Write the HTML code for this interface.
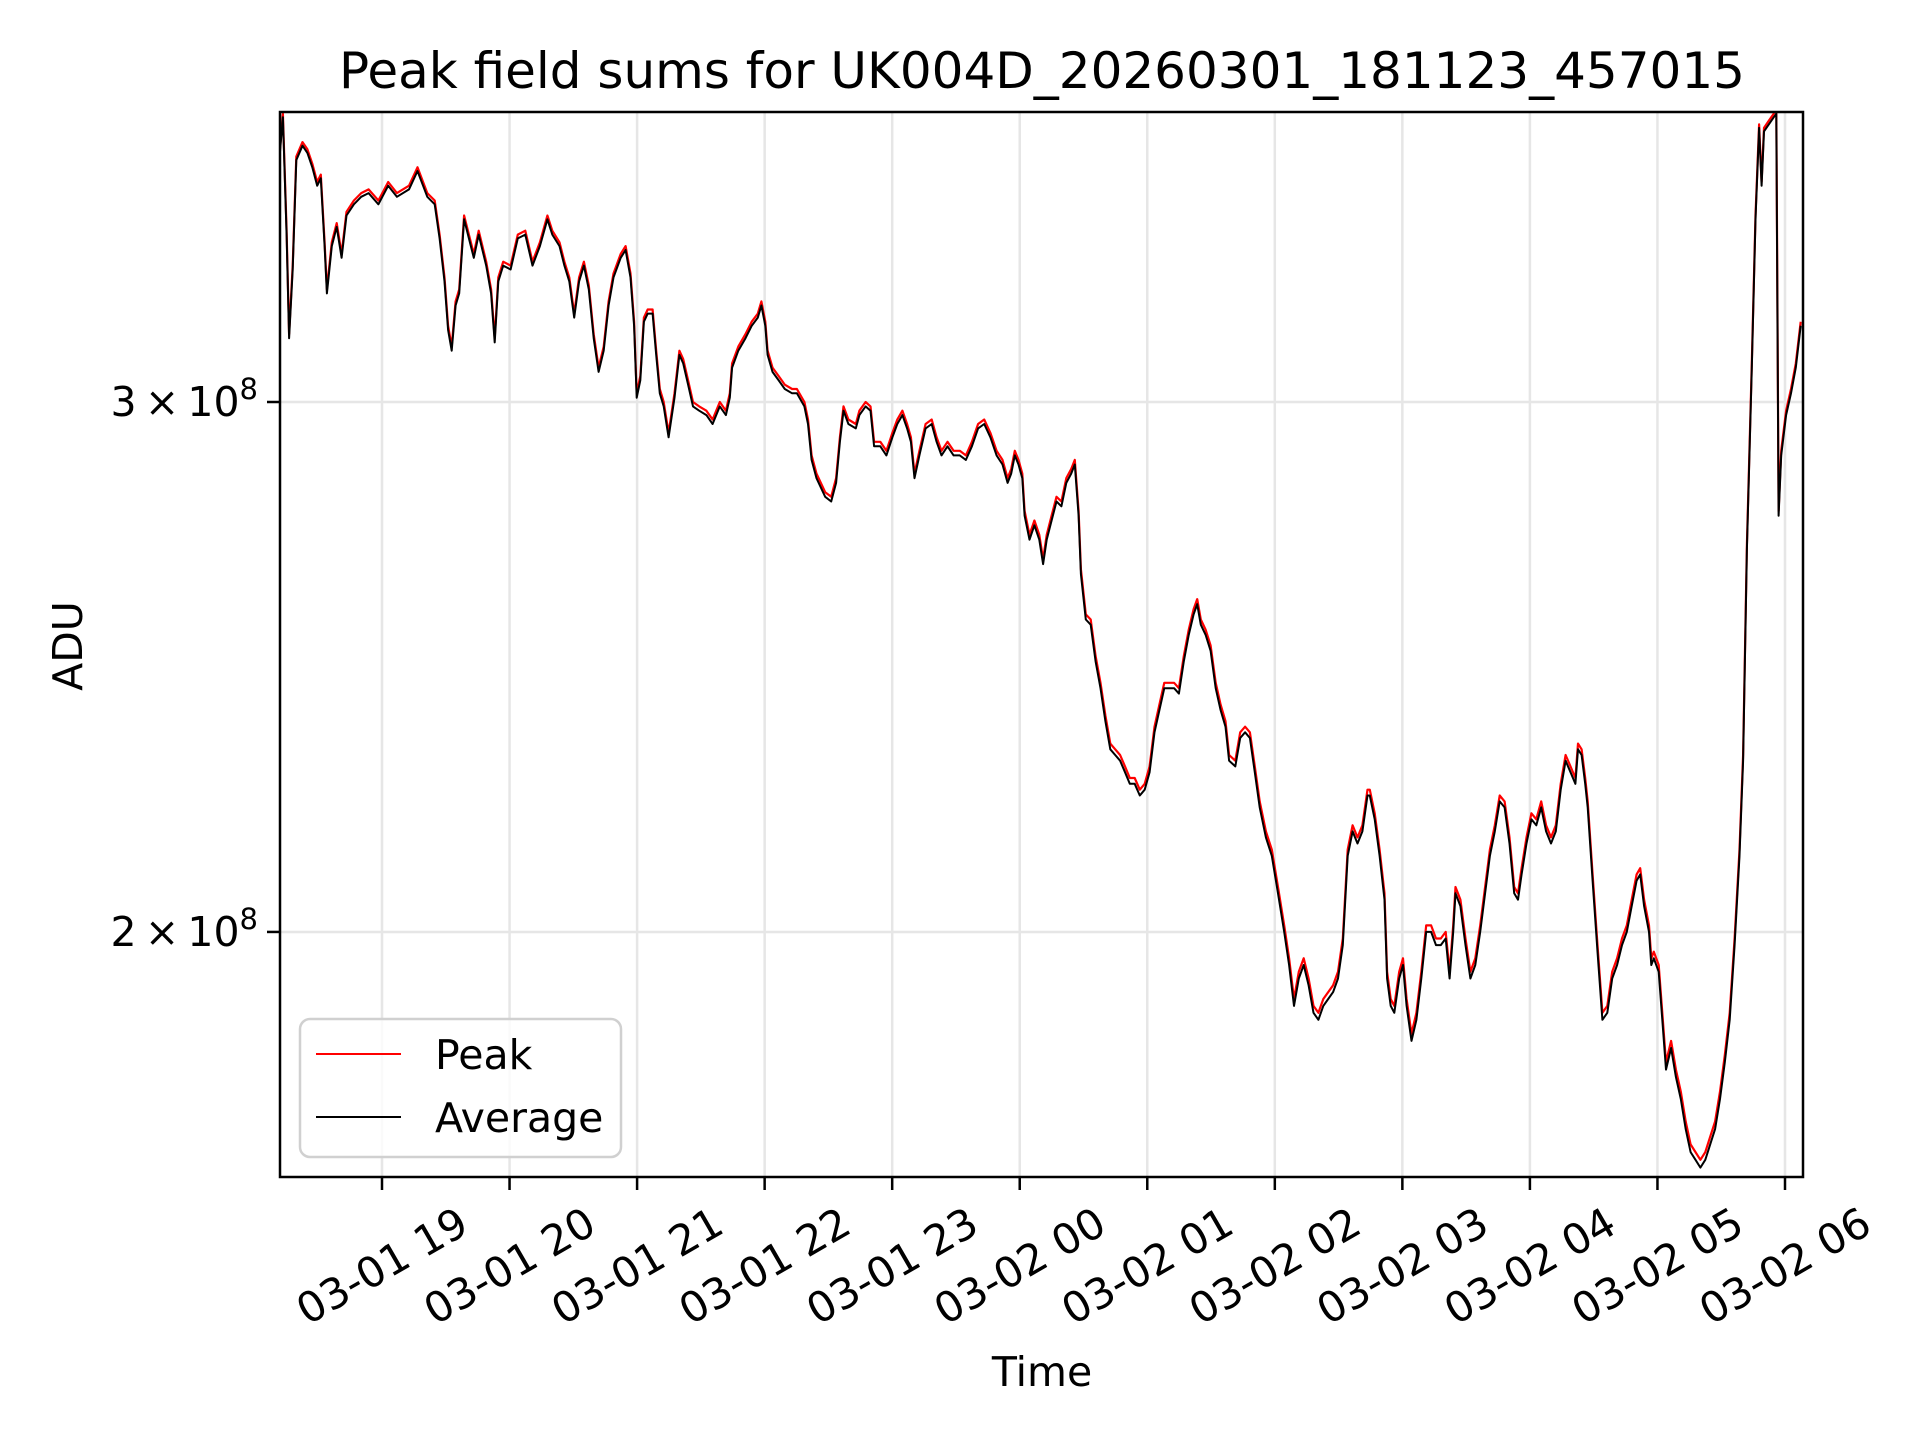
<!DOCTYPE html>
<html><head><meta charset="utf-8"><style>
html,body{margin:0;padding:0;background:#fff}
svg{display:block}
text{font-family:"DejaVu Sans","Liberation Sans",sans-serif;fill:#000}
</style></head><body>
<svg id="chart" width="1920" height="1440" viewBox="0 0 1920 1440" xmlns="http://www.w3.org/2000/svg">
<rect x="0" y="0" width="1920" height="1440" fill="#fff"/>
<text x="1042" y="88" font-size="50" text-anchor="middle">Peak field sums for UK004D_20260301_181123_457015</text>
<text transform="translate(82,646) rotate(-90)" font-size="41" text-anchor="middle">ADU</text>
<text x="1042" y="1386" font-size="41" text-anchor="middle">Time</text>
<g id="grid"></g>
<g id="series"></g>
<rect x="280" y="112" width="1523" height="1065" fill="none" stroke="#000" stroke-width="2.5"/>
<g id="ticks"></g>
<g>
<rect x="300" y="1019" width="321" height="138" rx="10" fill="#fff" fill-opacity="0.8" stroke="#d0d0d0" stroke-width="2.5"/>
<line x1="316" y1="1054" x2="401" y2="1054" stroke="#ff0000" stroke-width="2"/>
<text x="435" y="1069" font-size="41">Peak</text>
<line x1="316" y1="1117" x2="401" y2="1117" stroke="#000" stroke-width="2"/>
<text x="435" y="1132" font-size="41">Average</text>
</g>
</svg>
<script>
const xTickMinutes = [60,120,180,240,300,360,420,480,540,600,660,720];
const xTickLabels = ["03-01 19","03-01 20","03-01 21","03-01 22","03-01 23","03-02 00","03-02 01","03-02 02","03-02 03","03-02 04","03-02 05","03-02 06"];
const yTickValues = [2,3];
const yTickLabels = ["2","3"];
const timesMin = [
11.7,13.4,15.1,16.3,18.0,19.7,22.6,24.9,27.2,29.5,
31.2,33.0,34.1,36.4,38.7,41.0,43.3,46.8,50.2,53.7,
58.3,62.9,67.0,72.7,76.7,81.3,84.8,87.1,89.4,91.1,
92.8,94.6,96.3,98.6,100.9,103.2,105.5,109.0,111.3,113.0,
114.7,117.0,120.5,123.9,127.4,130.8,134.3,137.8,140.1,143.5,
145.8,148.1,150.4,152.7,155.0,157.3,159.6,161.9,164.3,166.6,
168.9,172.3,174.6,176.9,178.6,179.8,181.5,183.2,185.0,187.3,
189.0,190.7,192.5,194.8,197.6,199.9,201.7,204.0,206.3,209.2,
212.6,215.5,218.9,221.8,223.6,224.7,227.6,231.0,233.9,236.8,
238.5,240.3,241.4,243.7,246.6,249.5,252.9,255.2,258.7,260.4,
262.1,264.4,268.5,271.3,273.6,275.4,277.1,279.4,282.9,284.6,
287.5,289.8,291.5,294.4,297.3,300.1,302.4,304.8,307.0,308.8,
310.5,312.8,315.7,318.6,320.9,323.2,326.0,328.9,331.8,334.7,
337.5,340.4,343.3,346.2,349.1,351.9,354.3,356.0,357.7,359.4,
361.2,362.3,364.6,366.9,369.2,371.0,372.7,375.0,377.3,379.6,
381.9,384.2,385.9,387.7,388.8,391.1,393.4,395.7,398.0,400.3,
402.6,404.9,407.2,409.5,411.8,414.1,416.5,418.8,421.1,423.4,
425.7,428.0,430.3,432.6,434.9,437.2,439.5,441.8,443.5,445.2,
447.5,449.8,452.2,454.5,456.8,458.5,461.4,463.7,466.0,468.3,
470.6,472.9,475.8,478.6,481.5,484.4,486.7,489.0,491.3,493.6,
495.9,498.2,500.5,502.8,505.1,507.4,509.7,512.0,514.3,516.6,
518.9,521.2,523.6,524.7,527.0,529.3,531.6,532.8,534.5,536.2,
538.5,540.3,542.0,544.3,546.6,548.9,551.2,553.5,555.8,558.1,
560.4,562.2,563.9,565.0,567.3,569.7,572.0,574.3,576.6,578.9,
581.2,583.5,585.8,588.1,590.4,592.6,594.4,596.1,598.4,600.7,
603.0,605.3,607.6,609.9,612.2,614.5,616.8,619.1,621.4,622.6,
624.3,626.0,627.2,629.5,631.8,634.1,636.4,638.7,641.0,643.3,
645.6,647.9,650.2,651.9,653.7,656.0,657.1,658.3,660.6,662.3,
664.0,666.4,668.7,671.0,673.3,675.6,677.9,680.2,682.5,684.8,
687.1,689.4,691.7,694.0,696.3,698.6,700.3,702.1,704.4,706.1,
707.8,709.0,710.1,712.4,714.7,715.9,717.0,718.2,720.5,722.8,
725.1,727.4];
const averageVals = [
3.61,3.73,3.41,3.15,3.32,3.61,3.65,3.63,3.59,3.54,
3.56,3.38,3.26,3.38,3.43,3.35,3.46,3.49,3.51,3.52,
3.49,3.54,3.51,3.53,3.58,3.51,3.49,3.40,3.29,3.17,
3.12,3.23,3.26,3.45,3.40,3.35,3.41,3.33,3.26,3.14,
3.29,3.33,3.32,3.40,3.41,3.33,3.38,3.45,3.41,3.38,
3.33,3.29,3.20,3.29,3.33,3.27,3.15,3.07,3.12,3.23,
3.30,3.35,3.37,3.30,3.18,3.01,3.05,3.19,3.21,3.21,
3.11,3.02,2.99,2.92,3.01,3.11,3.09,3.04,2.99,2.98,
2.97,2.95,2.99,2.97,3.01,3.08,3.12,3.15,3.18,3.20,
3.23,3.18,3.11,3.07,3.05,3.03,3.02,3.02,2.99,2.95,
2.87,2.83,2.79,2.78,2.82,2.91,2.98,2.95,2.94,2.97,
2.99,2.98,2.90,2.90,2.88,2.92,2.95,2.97,2.94,2.91,
2.83,2.88,2.94,2.95,2.91,2.88,2.90,2.88,2.88,2.87,
2.90,2.94,2.95,2.92,2.88,2.86,2.82,2.84,2.88,2.86,
2.83,2.75,2.70,2.73,2.70,2.65,2.70,2.74,2.78,2.77,
2.82,2.84,2.86,2.75,2.63,2.54,2.53,2.46,2.41,2.35,
2.30,2.29,2.28,2.26,2.24,2.24,2.22,2.23,2.26,2.33,
2.37,2.41,2.41,2.41,2.40,2.46,2.51,2.55,2.57,2.53,
2.51,2.48,2.41,2.37,2.34,2.28,2.27,2.32,2.33,2.32,
2.26,2.20,2.15,2.12,2.06,2.00,1.95,1.89,1.93,1.95,
1.92,1.88,1.87,1.89,1.90,1.91,1.93,1.98,2.12,2.16,
2.14,2.16,2.22,2.22,2.18,2.12,2.05,1.93,1.89,1.88,
1.93,1.95,1.89,1.84,1.87,1.93,2.00,2.00,1.98,1.98,
1.99,1.93,2.00,2.06,2.04,1.98,1.93,1.95,2.00,2.06,
2.12,2.16,2.21,2.20,2.14,2.06,2.05,2.09,2.14,2.18,
2.17,2.20,2.16,2.14,2.16,2.23,2.28,2.26,2.24,2.30,
2.29,2.24,2.20,2.08,1.97,1.87,1.88,1.93,1.95,1.98,
2.00,2.04,2.08,2.09,2.04,2.00,1.95,1.96,1.94,1.87,
1.80,1.83,1.79,1.76,1.72,1.69,1.68,1.67,1.68,1.70,
1.72,1.76,1.81,1.87,1.98,2.12,2.28,2.68,3.08,3.45,
3.70,3.54,3.69,3.71,3.73,3.74,2.75,2.88,2.97,3.02,
3.08,3.18];
const peakVals = [
3.62,3.74,3.42,3.16,3.33,3.62,3.66,3.64,3.60,3.55,
3.57,3.39,3.27,3.39,3.44,3.36,3.47,3.50,3.52,3.53,
3.50,3.55,3.52,3.54,3.59,3.52,3.50,3.41,3.30,3.18,
3.13,3.24,3.27,3.46,3.41,3.36,3.42,3.34,3.27,3.15,
3.30,3.34,3.33,3.41,3.42,3.34,3.39,3.46,3.42,3.39,
3.34,3.30,3.21,3.30,3.34,3.28,3.16,3.08,3.13,3.24,
3.31,3.36,3.38,3.31,3.19,3.02,3.06,3.20,3.22,3.22,
3.12,3.03,3.00,2.93,3.02,3.12,3.10,3.05,3.00,2.99,
2.98,2.96,3.00,2.98,3.02,3.09,3.13,3.16,3.19,3.21,
3.24,3.19,3.12,3.08,3.06,3.04,3.03,3.03,3.00,2.96,
2.88,2.84,2.80,2.79,2.83,2.92,2.99,2.96,2.95,2.98,
3.00,2.99,2.91,2.91,2.89,2.93,2.96,2.98,2.95,2.92,
2.84,2.89,2.95,2.96,2.92,2.89,2.91,2.89,2.89,2.88,
2.91,2.95,2.96,2.93,2.89,2.87,2.83,2.85,2.89,2.87,
2.84,2.76,2.71,2.74,2.71,2.66,2.71,2.75,2.79,2.78,
2.83,2.85,2.87,2.76,2.64,2.55,2.54,2.47,2.42,2.36,
2.31,2.30,2.29,2.27,2.25,2.25,2.23,2.24,2.27,2.34,
2.38,2.42,2.42,2.42,2.41,2.47,2.52,2.56,2.58,2.54,
2.52,2.49,2.42,2.38,2.35,2.29,2.28,2.33,2.34,2.33,
2.27,2.21,2.16,2.13,2.07,2.01,1.96,1.90,1.94,1.96,
1.93,1.89,1.88,1.90,1.91,1.92,1.94,1.99,2.13,2.17,
2.15,2.17,2.23,2.23,2.19,2.13,2.06,1.94,1.90,1.89,
1.94,1.96,1.90,1.85,1.88,1.94,2.01,2.01,1.99,1.99,
2.00,1.94,2.01,2.07,2.05,1.99,1.94,1.96,2.01,2.07,
2.13,2.17,2.22,2.21,2.15,2.07,2.06,2.10,2.15,2.19,
2.18,2.21,2.17,2.15,2.17,2.24,2.29,2.27,2.25,2.31,
2.30,2.25,2.21,2.09,1.98,1.88,1.89,1.94,1.96,1.99,
2.01,2.05,2.09,2.10,2.05,2.01,1.96,1.97,1.95,1.88,
1.81,1.84,1.80,1.77,1.73,1.70,1.69,1.68,1.69,1.71,
1.73,1.77,1.82,1.88,1.99,2.13,2.29,2.69,3.09,3.46,
3.71,3.55,3.70,3.72,3.74,3.76,2.76,2.89,2.98,3.03,
3.09,3.19];

const NS = "http://www.w3.org/2000/svg";
const PL = 280, PR = 1803, PT = 112, PB = 1177;
function xScale(m){ return 382 + (m - 60) * (1785 - 382) / 660; }
function yScale(v){ return 402 + (Math.log(3) - Math.log(v)) * 1307; }

const svg = document.getElementById('chart');
const defs = document.createElementNS(NS,'defs');
const cp = document.createElementNS(NS,'clipPath');
cp.setAttribute('id','plotclip');
const cr = document.createElementNS(NS,'rect');
cr.setAttribute('x',PL); cr.setAttribute('y',PT); cr.setAttribute('width',PR-PL); cr.setAttribute('height',PB-PT);
cp.appendChild(cr); defs.appendChild(cp); svg.insertBefore(defs, svg.firstChild);

const grid = document.getElementById('grid');
const ticks = document.getElementById('ticks');
xTickMinutes.forEach((m,i)=>{
  const x = xScale(m);
  const g = document.createElementNS(NS,'line');
  
  
  g.setAttribute('x1',x); g.setAttribute('x2',x); g.setAttribute('y1',PT); g.setAttribute('y2',PB);
  g.setAttribute('stroke','#e6e6e6'); g.setAttribute('stroke-width','2.5');
  grid.appendChild(g);
  const t = document.createElementNS(NS,'line');
  
  
  t.setAttribute('x1',x); t.setAttribute('x2',x); t.setAttribute('y1',PB); t.setAttribute('y2',PB+13);
  t.setAttribute('stroke','#000'); t.setAttribute('stroke-width','2.5');
  ticks.appendChild(t);
  const lb = document.createElementNS(NS,'text');
  
  
  lb.setAttribute('font-size','42');
  lb.setAttribute('text-anchor','middle');
  lb.setAttribute('dominant-baseline','central');
  lb.setAttribute('transform','translate('+x+',1266) rotate(-30)');
  lb.textContent = xTickLabels[i];
  ticks.appendChild(lb);
});
yTickValues.forEach((v,i)=>{
  const y = yScale(v);
  const g = document.createElementNS(NS,'line');
  
  
  g.setAttribute('x1',PL); g.setAttribute('x2',PR); g.setAttribute('y1',y); g.setAttribute('y2',y);
  g.setAttribute('stroke','#e6e6e6'); g.setAttribute('stroke-width','2.5');
  grid.appendChild(g);
  const t = document.createElementNS(NS,'line');
  
  
  t.setAttribute('x1',PL-13); t.setAttribute('x2',PL); t.setAttribute('y1',y); t.setAttribute('y2',y);
  t.setAttribute('stroke','#000'); t.setAttribute('stroke-width','2.5');
  ticks.appendChild(t);
  const lb = document.createElementNS(NS,'text');
  
  
  lb.setAttribute('font-size','41');
  lb.setAttribute('text-anchor','end');
  lb.setAttribute('x', PL-22); lb.setAttribute('y', y+14);
  lb.innerHTML = yTickLabels[i] + '\u2009\u00d7\u200910<tspan font-size="29" dy="-17">8</tspan>';
  ticks.appendChild(lb);
});

const series = document.getElementById('series');
series.setAttribute('clip-path','url(#plotclip)');
function pathFor(vals){
  let d = '';
  for (let i=0;i<timesMin.length;i++){
    d += (i? 'L':'M') + xScale(timesMin[i]).toFixed(1) + ',' + yScale(vals[i]).toFixed(1);
  }
  return d;
}
const peak = document.createElementNS(NS,'path');


peak.setAttribute('d', pathFor(peakVals));
peak.setAttribute('fill','none'); peak.setAttribute('stroke','#ff0000'); peak.setAttribute('stroke-width','2.2');
peak.setAttribute('stroke-linejoin','round');
series.appendChild(peak);
const avg = document.createElementNS(NS,'path');


avg.setAttribute('d', pathFor(averageVals));
avg.setAttribute('fill','none'); avg.setAttribute('stroke','#000'); avg.setAttribute('stroke-width','2');
avg.setAttribute('stroke-linejoin','round');
series.appendChild(avg);
</script>
</body></html>
